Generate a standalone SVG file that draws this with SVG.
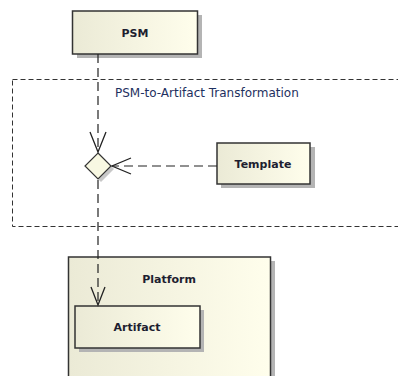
<svg xmlns="http://www.w3.org/2000/svg" width="398" height="376" viewBox="0 0 398 376">
  <style>
    .box { stroke: #333333; stroke-width: 1.5; fill: url(#cream); }
    .shadow { fill: #b4b4b4; }
    .lbl { font-family: "DejaVu Sans", "Liberation Sans", sans-serif; font-size: 11px; font-weight: bold; fill: #1e1e30; text-anchor: middle; }
    .title { font-family: "DejaVu Sans", "Liberation Sans", sans-serif; font-size: 12px; fill: #1e3060; }
    .flow { stroke: #222222; stroke-width: 1.2; fill: none; stroke-dasharray: 9 5; }
    .head { stroke: #222222; stroke-width: 1.3; fill: none; }
  </style>
  <defs>
    <linearGradient id="cream" x1="0" y1="0" x2="1" y2="0">
      <stop offset="0" stop-color="#ebead6"/>
      <stop offset="1" stop-color="#fffeec"/>
    </linearGradient>
  </defs>
  <rect width="398" height="376" fill="#ffffff"/>

  <!-- transformation boundary (open to the right) -->
  <g id="transformation">
    <rect x="12.5" y="79.5" width="400" height="147" fill="none" stroke="#333333" stroke-width="1" stroke-dasharray="5 3"/>
    <text class="title" x="115" y="97">PSM-to-Artifact Transformation</text>
  </g>

  <g id="psm">
    <rect class="shadow" x="77" y="15" width="125" height="43"/>
    <rect class="box" x="72.5" y="11" width="125" height="43"/>
    <text class="lbl" x="135" y="37">PSM</text>
  </g>

  <g id="platform">
    <rect class="shadow" x="73" y="261" width="202" height="120"/>
    <rect class="box" x="68.5" y="257" width="202" height="125"/>
    <text class="lbl" x="169" y="283">Platform</text>
  </g>

  <g id="artifact">
    <rect class="shadow" x="79" y="310" width="125" height="42"/>
    <rect class="box" x="75" y="306" width="125" height="42"/>
    <text class="lbl" x="137" y="331">Artifact</text>
  </g>

  <g id="template">
    <rect class="shadow" x="221" y="147" width="94" height="41"/>
    <rect class="box" x="217" y="143" width="93" height="41"/>
    <text class="lbl" x="263" y="168">Template</text>
  </g>

  <g id="merge">
    <polygon points="101,156 114,169 101,182 88,169" fill="#c8c8c8"/>
    <polygon points="98,153 111,166 98,179 85,166" fill="#f8f8e2" stroke="#333333" stroke-width="1.2"/>
  </g>

  <g id="connectors">
    <line class="flow" x1="98" y1="54" x2="98" y2="152"/>
    <polyline class="head" points="90,132 98,152 106,132"/>
    <line class="flow" x1="217" y1="166" x2="112" y2="166"/>
    <polyline class="head" points="131,158 112,166 131,174"/>
    <line class="flow" x1="98" y1="180" x2="98" y2="305"/>
    <polyline class="head" points="91,287 98,305 105,287"/>
  </g>
</svg>
